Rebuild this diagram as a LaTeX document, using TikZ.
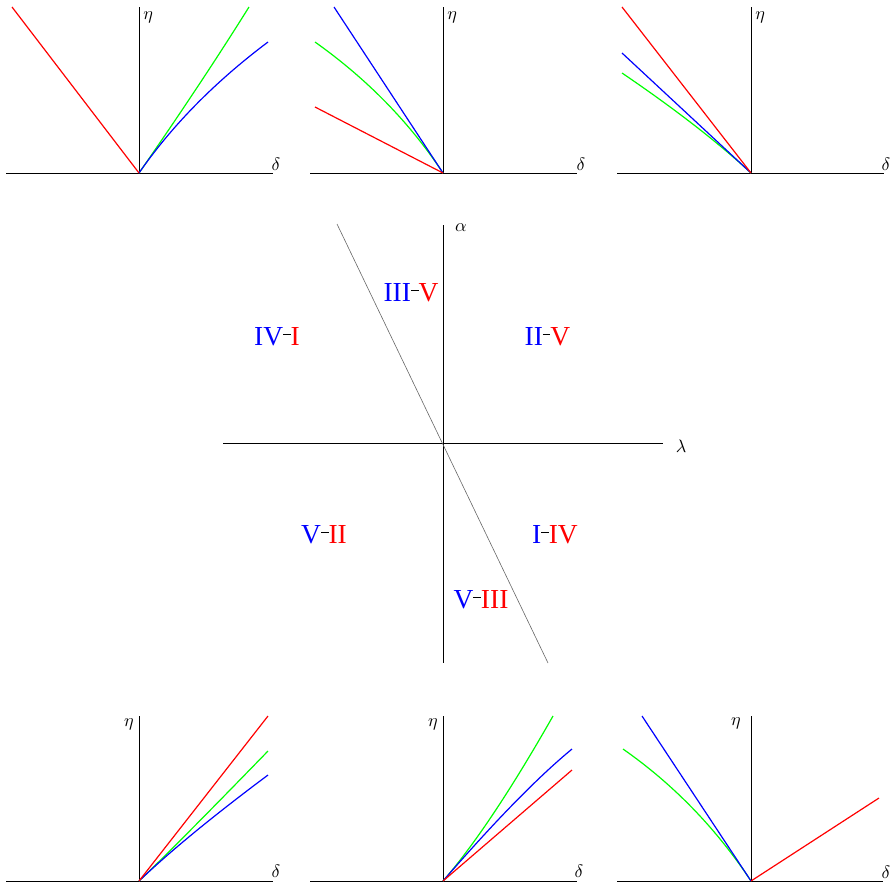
\documentclass[tikz,border=0pt]{standalone}
\usepackage{fontspec}
\usetikzlibrary{calc}
\newfontfamily\labfont{Liberation Serif}
\newcommand{\dsh}{\rule[0.36em]{7.5pt}{0.9pt}}
\begin{document}
\begin{tikzpicture}[x=1pt,y=-1pt,
  axis/.style={black, line width=0.9pt},
  crv/.style={line width=1.2pt},
  sym/.style={scale=1.8, inner sep=0pt},
  reg/.style={font=\labfont\fontsize{27.5}{27.5}\selectfont, anchor=base, inner sep=0pt}]
\useasboundingbox (0,0) rectangle (894,884);
% ---------- top-left panel
\coordinate (o1) at (139,173);
\coordinate (h1a) at (6,173); \coordinate (h1b) at (273,173); \coordinate (v1) at (139,7);
\draw[axis] (h1a) -- (h1b); \draw[axis] (o1) -- (v1);
\node[sym, anchor=west] (eta1) at (143,17) {$\eta$};
\node[sym] (del1) at (276,164) {$\delta$};
\coordinate (g1c) at (201.5,83); \coordinate (g1e) at (249,7);
\coordinate (b1c) at (188.6,101.6); \coordinate (b1e) at (268,42);
\coordinate (r1e) at (12,7);
\draw[crv, green] (o1) .. controls ($(o1)!2/3!(g1c)$) and ($(g1e)!2/3!(g1c)$) .. (g1e);
\draw[crv, blue] (o1) .. controls ($(o1)!2/3!(b1c)$) and ($(b1e)!2/3!(b1c)$) .. (b1e);
\draw[crv, red] (o1) -- (r1e);
% ---------- top-middle panel
\coordinate (o2) at (443,173);
\coordinate (h2a) at (310,173); \coordinate (h2b) at (577,173); \coordinate (v2) at (443,7);
\draw[axis] (h2a) -- (h2b); \draw[axis] (o2) -- (v2);
\node[sym, anchor=west] (eta2) at (447,17) {$\eta$};
\node[sym] (del2) at (581,164) {$\delta$};
\coordinate (g2c) at (393.5,97.8); \coordinate (g2e) at (315,42);
\coordinate (b2e) at (334,7); \coordinate (r2e) at (315,107);
\draw[crv, green] (o2) .. controls ($(o2)!2/3!(g2c)$) and ($(g2e)!2/3!(g2c)$) .. (g2e);
\draw[crv, blue] (o2) -- (b2e);
\draw[crv, red] (o2) -- (r2e);
% ---------- top-right panel
\coordinate (o3) at (751,173);
\coordinate (h3a) at (617,173); \coordinate (h3b) at (884,173); \coordinate (v3) at (751,7);
\draw[axis] (h3a) -- (h3b); \draw[axis] (o3) -- (v3);
\node[sym, anchor=west] (eta3) at (755,17) {$\eta$};
\node[sym] (del3) at (886,164) {$\delta$};
\coordinate (g3c) at (702,127.4); \coordinate (g3e) at (622,73);
\coordinate (b3e) at (622,53); \coordinate (r3e) at (622,7);
\draw[crv, green] (o3) .. controls ($(o3)!2/3!(g3c)$) and ($(g3e)!2/3!(g3c)$) .. (g3e);
\draw[crv, blue] (o3) -- (b3e);
\draw[crv, red] (o3) -- (r3e);
% ---------- middle diagram
\coordinate (o0) at (443,443);
\coordinate (h0a) at (223,443); \coordinate (h0b) at (663,443);
\coordinate (v0a) at (443,225); \coordinate (v0b) at (443,663);
\draw[axis] (h0a) -- (h0b); \draw[axis] (v0a) -- (v0b);
\node[sym] (alpha) at (461,228) {$\alpha$};
\node[sym] (lambda) at (681,446) {$\lambda$};
\coordinate (d0a) at (337,224); \coordinate (d0b) at (548,663);
\draw[gray!80!black, line width=0.6pt] (d0a) -- (d0b);
\node[reg] (r35) at (411,301) {{\color{blue}III}\dsh{\color{red}V}};
\node[reg] (r41) at (277,345) {{\color{blue}IV}\dsh{\color{red}I}};
\node[reg] (r25) at (547.5,345) {{\color{blue}II}\dsh{\color{red}V}};
\node[reg] (r52) at (324,543) {{\color{blue}V}\dsh{\color{red}II}};
\node[reg] (r14) at (555,543) {{\color{blue}I}\dsh{\color{red}IV}};
\node[reg] (r53) at (481,608) {{\color{blue}V}\dsh{\color{red}III}};
% ---------- bottom-left panel
\coordinate (o4) at (139,881);
\coordinate (h4a) at (6,881); \coordinate (h4b) at (273,881); \coordinate (v4) at (139,716);
\draw[axis] (h4a) -- (h4b); \draw[axis] (o4) -- (v4);
\node[sym] (eta4) at (129,724) {$\eta$};
\node[sym] (del4) at (276,871) {$\delta$};
\coordinate (g4c) at (175,846.8); \coordinate (g4e) at (268,751);
\coordinate (b4c) at (185,837); \coordinate (b4e) at (268,775);
\coordinate (r4e) at (268,716);
\draw[crv, green] (o4) .. controls ($(o4)!2/3!(g4c)$) and ($(g4e)!2/3!(g4c)$) .. (g4e);
\draw[crv, blue] (o4) .. controls ($(o4)!2/3!(b4c)$) and ($(b4e)!2/3!(b4c)$) .. (b4e);
\draw[crv, red] (o4) -- (r4e);
% ---------- bottom-middle panel
\coordinate (o5) at (443,881);
\coordinate (h5a) at (310,881); \coordinate (h5b) at (577,881); \coordinate (v5) at (443,716);
\draw[axis] (h5a) -- (h5b); \draw[axis] (o5) -- (v5);
\node[sym] (eta5) at (433,724) {$\eta$};
\node[sym] (del5) at (579,871) {$\delta$};
\coordinate (g5c) at (489.9,827); \coordinate (g5e) at (553,716);
\coordinate (b5c) at (521,791); \coordinate (b5e) at (572,749);
\coordinate (r5e) at (572,770);
\draw[crv, green] (o5) .. controls ($(o5)!2/3!(g5c)$) and ($(g5e)!2/3!(g5c)$) .. (g5e);
\draw[crv, blue] (o5) .. controls ($(o5)!2/3!(b5c)$) and ($(b5e)!2/3!(b5c)$) .. (b5e);
\draw[crv, red] (o5) -- (r5e);
% ---------- bottom-right panel
\coordinate (o6) at (751,881);
\coordinate (h6a) at (617,881); \coordinate (h6b) at (883,881); \coordinate (v6) at (751,716);
\draw[axis] (h6a) -- (h6b); \draw[axis] (o6) -- (v6);
\node[sym] (eta6) at (736,723) {$\eta$};
\node[sym] (del6) at (886,872) {$\delta$};
\coordinate (g6c) at (698.7,802); \coordinate (g6e) at (623,749);
\coordinate (b6e) at (642,716); \coordinate (r6e) at (879,798);
\draw[crv, green] (o6) .. controls ($(o6)!2/3!(g6c)$) and ($(g6e)!2/3!(g6c)$) .. (g6e);
\draw[crv, blue] (o6) -- (b6e);
\draw[crv, red] (o6) -- (r6e);
\end{tikzpicture}
\end{document}
